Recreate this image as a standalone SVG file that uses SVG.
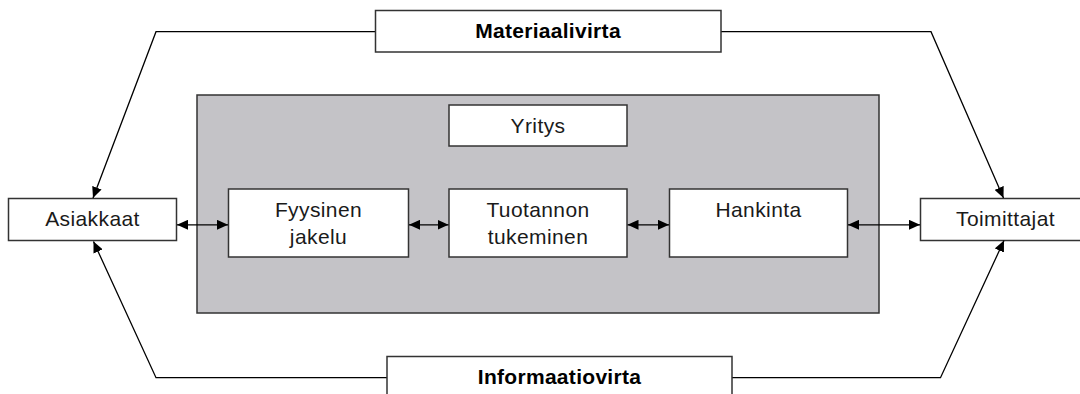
<svg xmlns="http://www.w3.org/2000/svg" width="1080" height="394" viewBox="0 0 1080 394">
  <style>
    .box { fill: #ffffff; stroke: #333333; stroke-width: 1.5; }
    .org { fill: #c4c3c7; stroke: #333333; stroke-width: 1.5; }
    .lbl { font-family: "Liberation Sans", Arial, sans-serif; font-size: 21px; fill: #1a1a1a; text-anchor: middle; letter-spacing: 0.4px; }
    .flow { font-family: "Liberation Sans", Arial, sans-serif; font-size: 21px; font-weight: bold; fill: #000000; text-anchor: middle; letter-spacing: 0.3px; }
    .conn { fill: none; stroke: #000000; stroke-width: 1.3; }
  </style>
  <defs>
    <marker id="head" viewBox="0 0 11 10" refX="11" refY="5" markerWidth="11" markerHeight="10" markerUnits="userSpaceOnUse" orient="auto-start-reverse">
      <path d="M0,0 L11,5 L0,10 Z" fill="#000000"/>
    </marker>
  </defs>

  <rect width="1080" height="394" fill="#ffffff"/>

  <!-- company frame -->
  <g id="yritys-frame">
    <rect class="org" x="197" y="95" width="682" height="218"/>
  </g>

  <g id="yritys">
    <rect class="box" x="449" y="105" width="178" height="41"/>
    <text class="lbl" x="538" y="133">Yritys</text>
  </g>

  <g id="fyysinen-jakelu">
    <rect class="box" x="228.5" y="189" width="180" height="68"/>
    <text class="lbl" x="318.5" y="217">Fyysinen</text>
    <text class="lbl" x="318.5" y="243.5">jakelu</text>
  </g>

  <g id="tuotannon-tukeminen">
    <rect class="box" x="449" y="189" width="178" height="68"/>
    <text class="lbl" x="538" y="217">Tuotannon</text>
    <text class="lbl" x="538" y="244">tukeminen</text>
  </g>

  <g id="hankinta">
    <rect class="box" x="669.5" y="189" width="178" height="68"/>
    <text class="lbl" x="758.5" y="217">Hankinta</text>
  </g>

  <g id="asiakkaat">
    <rect class="box" x="8.5" y="198.5" width="168" height="42"/>
    <text class="lbl" x="92.5" y="226">Asiakkaat</text>
  </g>

  <g id="toimittajat">
    <rect class="box" x="920.5" y="198.5" width="170" height="42"/>
    <text class="lbl" x="1005.5" y="226">Toimittajat</text>
  </g>

  <!-- flows -->
  <g id="connectors">
    <polyline class="conn" points="375,31.7 156,31.7 93,198" marker-end="url(#head)"/>
    <polyline class="conn" points="721,31.7 931,31.7 1003.5,198" marker-end="url(#head)"/>
    <polyline class="conn" points="387,377.7 156,377.7 93.5,241.5" marker-end="url(#head)"/>
    <polyline class="conn" points="732,377.7 940.5,377.7 1004,240.5" marker-end="url(#head)"/>
    <line class="conn" x1="177" y1="224.8" x2="228" y2="224.8" marker-start="url(#head)" marker-end="url(#head)"/>
    <line class="conn" x1="409" y1="224.8" x2="448.5" y2="224.8" marker-start="url(#head)" marker-end="url(#head)"/>
    <line class="conn" x1="627.5" y1="224.8" x2="669" y2="224.8" marker-start="url(#head)" marker-end="url(#head)"/>
    <line class="conn" x1="848" y1="224.8" x2="920" y2="224.8" marker-start="url(#head)" marker-end="url(#head)"/>
  </g>

  <g id="materiaalivirta">
    <rect class="box" x="375.5" y="10.5" width="345.5" height="41.5"/>
    <text class="flow" x="548" y="37.7">Materiaalivirta</text>
  </g>

  <g id="informaatiovirta">
    <rect class="box" x="387" y="356.5" width="345" height="50"/>
    <text class="flow" x="559.5" y="384">Informaatiovirta</text>
  </g>
</svg>
